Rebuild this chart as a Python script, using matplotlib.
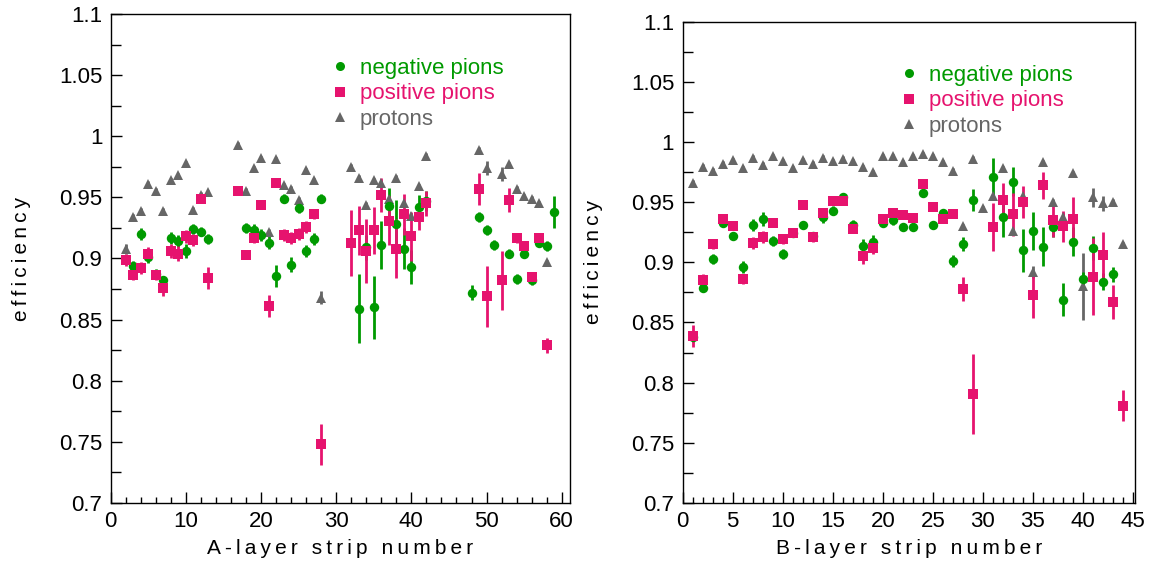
import matplotlib
matplotlib.use('Agg')
import matplotlib.pyplot as plt
from matplotlib.lines import Line2D
from matplotlib.ticker import MultipleLocator

plt.rcParams['font.family'] = ['Liberation Sans', 'DejaVu Sans']

green = '#009a00'
pink = '#e6136e'
grey = '#666666'

# ---- A layer ----
a_prot_x = [2, 3, 4, 5, 6, 7, 8, 9, 10, 11, 12, 13, 17, 18, 19, 20, 21, 22, 23, 24, 25, 26, 27, 28,
            32, 33, 34, 35, 36, 37, 38, 39, 40, 41, 42, 49, 50, 52, 53, 54, 55, 56, 57, 58]
a_prot_y = [0.908, 0.934, 0.939, 0.961, 0.9555, 0.939, 0.964, 0.968, 0.978, 0.940, 0.952, 0.954,
            0.993, 0.9555, 0.974, 0.982, 0.922, 0.981, 0.960, 0.957, 0.948, 0.972, 0.964, 0.868,
            0.975, 0.966, 0.944, 0.964, 0.962, 0.949, 0.966, 0.945, 0.935, 0.959, 0.984,
            0.989, 0.974, 0.969, 0.977, 0.957, 0.951, 0.949, 0.945, 0.897]
a_prot_e = [0.004, 0.002, 0.002, 0.002, 0.002, 0.002, 0.002, 0.002, 0.002, 0.002, 0.002, 0.002,
            0.002, 0.002, 0.002, 0.002, 0.002, 0.002, 0.002, 0.002, 0.002, 0.002, 0.002, 0.005,
            0.002, 0.002, 0.002, 0.002, 0.002, 0.002, 0.002, 0.002, 0.002, 0.002, 0.002,
            0.002, 0.006, 0.006, 0.002, 0.002, 0.002, 0.002, 0.002, 0.002]

a_neg_x = [3, 4, 5, 6, 7, 8, 9, 10, 11, 12, 13, 18, 19, 20, 21, 22, 23, 24, 25, 26, 27, 28,
           33, 34, 35, 36, 37, 38, 39, 40, 41, 42, 48, 49, 50, 51, 53, 54, 55, 56, 57, 58, 59]
a_neg_y = [0.894, 0.920, 0.9015, 0.887, 0.882, 0.917, 0.914, 0.906, 0.924, 0.922, 0.916,
           0.925, 0.923, 0.919, 0.913, 0.886, 0.949, 0.895, 0.941, 0.906, 0.916, 0.949,
           0.859, 0.909, 0.860, 0.911, 0.943, 0.928, 0.908, 0.893, 0.942, 0.947,
           0.872, 0.934, 0.923, 0.911, 0.904, 0.883, 0.904, 0.882, 0.913, 0.910, 0.938]
a_neg_e = [0.004, 0.005, 0.005, 0.004, 0.004, 0.005, 0.005, 0.006, 0.004, 0.004, 0.004,
           0.004, 0.005, 0.005, 0.005, 0.009, 0.004, 0.006, 0.004, 0.005, 0.005, 0.004,
           0.028, 0.010, 0.026, 0.020, 0.015, 0.020, 0.017, 0.014, 0.010, 0.008,
           0.006, 0.004, 0.004, 0.004, 0.004, 0.004, 0.004, 0.004, 0.004, 0.004, 0.013]

a_pos_x = [2, 3, 4, 5, 6, 7, 8, 9, 10, 11, 12, 13, 17, 18, 19, 20, 21, 22, 23, 24, 25, 26, 27, 28,
           32, 33, 34, 35, 36, 37, 38, 39, 40, 41, 42, 49, 50, 52, 53, 54, 55, 56, 57, 58]
a_pos_y = [0.899, 0.8865, 0.892, 0.904, 0.8865, 0.8756, 0.906, 0.904, 0.918, 0.915, 0.949, 0.884,
           0.9555, 0.903, 0.917, 0.9435, 0.861, 0.962, 0.9195, 0.917, 0.920, 0.926, 0.936, 0.748,
           0.913, 0.923, 0.906, 0.923, 0.952, 0.931, 0.908, 0.936, 0.918, 0.934, 0.945,
           0.957, 0.869, 0.882, 0.948, 0.9165, 0.910, 0.885, 0.917, 0.829]
a_pos_e = [0.005, 0.004, 0.005, 0.005, 0.004, 0.006, 0.006, 0.006, 0.005, 0.005, 0.003, 0.009,
           0.003, 0.003, 0.004, 0.003, 0.009, 0.003, 0.005, 0.005, 0.005, 0.005, 0.004, 0.017,
           0.027, 0.020, 0.026, 0.019, 0.014, 0.020, 0.024, 0.017, 0.020, 0.011, 0.010,
           0.013, 0.025, 0.024, 0.010, 0.004, 0.004, 0.003, 0.003, 0.006]

# ---- B layer ----
b_prot_x = list(range(1, 45))
b_prot_y = [0.966, 0.9795, 0.976, 0.982, 0.985, 0.978, 0.987, 0.981, 0.988, 0.984, 0.978, 0.985,
            0.982, 0.987, 0.984, 0.986, 0.984, 0.979, 0.975, 0.988, 0.988, 0.983, 0.988, 0.990,
            0.988, 0.983, 0.976, 0.930, 0.986, 0.945, 0.955, 0.978, 0.926, 0.955, 0.892, 0.983,
            0.950, 0.938, 0.974, 0.880, 0.954, 0.949, 0.950, 0.915]
b_prot_e = [0.002] * 34 + [0.005, 0.002, 0.003, 0.003, 0.002, 0.028, 0.008, 0.006, 0.003, 0.002]

b_neg_x = list(range(1, 30)) + list(range(31, 44))
b_neg_y = [0.838, 0.879, 0.903, 0.933, 0.922, 0.896, 0.931, 0.936, 0.9175, 0.907, 0.924, 0.931,
           0.922, 0.938, 0.943, 0.954, 0.931, 0.9135, 0.917, 0.933, 0.935, 0.929, 0.929, 0.958,
           0.931, 0.941, 0.901, 0.915, 0.952,
           0.971, 0.938, 0.967, 0.910, 0.926, 0.913, 0.929, 0.869, 0.917, 0.886, 0.912, 0.884, 0.890]
b_neg_e = [0.004, 0.004, 0.004, 0.004, 0.003, 0.005, 0.005, 0.006, 0.004, 0.004, 0.003, 0.003,
           0.003, 0.005, 0.004, 0.004, 0.004, 0.006, 0.006, 0.004, 0.004, 0.003, 0.003, 0.003,
           0.003, 0.003, 0.005, 0.006, 0.009,
           0.016, 0.017, 0.012, 0.018, 0.016, 0.016, 0.008, 0.014, 0.012, 0.006, 0.010, 0.007, 0.006]

b_pos_x = list(range(1, 30)) + list(range(31, 40)) + [41, 42, 43, 44]
b_pos_y = [0.839, 0.885, 0.915, 0.936, 0.930, 0.886, 0.916, 0.921, 0.933, 0.919, 0.924, 0.948,
           0.921, 0.941, 0.951, 0.951, 0.928, 0.905, 0.912, 0.936, 0.941, 0.939, 0.937, 0.965,
           0.946, 0.936, 0.940, 0.878, 0.7905,
           0.929, 0.952, 0.940, 0.950, 0.873, 0.964, 0.935, 0.930, 0.936, 0.888, 0.906, 0.867, 0.781]
b_pos_e = [0.009, 0.005, 0.004, 0.003, 0.003, 0.004, 0.005, 0.005, 0.003, 0.004, 0.003, 0.003,
           0.004, 0.004, 0.003, 0.003, 0.004, 0.006, 0.005, 0.004, 0.003, 0.003, 0.003, 0.003,
           0.003, 0.003, 0.003, 0.010, 0.033,
           0.020, 0.014, 0.018, 0.013, 0.019, 0.011, 0.014, 0.013, 0.018, 0.032, 0.019, 0.014, 0.0125]

labels = ['negative pions', 'positive pions', 'protons']


def spaced(s):
    return '\u2009'.join(s)


def draw(ax, prot, neg, pos, xlim, major, minor, xlabel, leg_anchor):
    ax.errorbar(prot[0], prot[1], yerr=prot[2], fmt='^', color=grey, ms=6.5, elinewidth=2, capsize=0, mew=0)
    ax.errorbar(neg[0], neg[1], yerr=neg[2], fmt='o', color=green, ms=6.8, elinewidth=2, capsize=0, mew=0)
    ax.errorbar(pos[0], pos[1], yerr=pos[2], fmt='s', color=pink, ms=6.5, elinewidth=2, capsize=0, mew=0)
    ax.set_xlim(0, xlim)
    ax.set_ylim(0.7, 1.1)
    ax.xaxis.set_major_locator(MultipleLocator(major))
    ax.xaxis.set_minor_locator(MultipleLocator(minor))
    ax.yaxis.set_major_locator(MultipleLocator(0.05))
    ax.yaxis.set_minor_locator(MultipleLocator(0.025))
    ax.yaxis.set_major_formatter(plt.FuncFormatter(lambda v, p: ('%.2f' % v).rstrip('0').rstrip('.')))
    ax.tick_params(which='both', direction='in', top=False, right=False, labelsize=16, width=1)
    ax.tick_params(which='major', length=8, pad=6)
    ax.tick_params(which='minor', length=4)
    ax.tick_params(axis='y', which='minor', length=7)
    for sp in ax.spines.values():
        sp.set_linewidth(1)
    ax.set_xlabel(spaced(xlabel), fontsize=15, labelpad=5)
    ax.set_ylabel(spaced('efficiency'), fontsize=15, labelpad=20)
    handles = [Line2D([], [], ls='', marker='o', color=green, ms=6.5, mew=0),
               Line2D([], [], ls='', marker='s', color=pink, ms=6.5, mew=0),
               Line2D([], [], ls='', marker='^', color=grey, ms=6.5, mew=0)]
    ax.legend(handles, labels, loc='upper left', bbox_to_anchor=leg_anchor, frameon=False,
              fontsize=16, labelcolor=[green, pink, grey], handlelength=0.8, handletextpad=0.5,
              labelspacing=0.2, borderpad=0, borderaxespad=0)


fig = plt.figure(figsize=(11.58, 5.63), dpi=100)
ax1 = fig.add_axes([0.0956, 0.1066, 0.3966, 0.8686])
ax2 = fig.add_axes([0.5894, 0.1066, 0.3908, 0.855])

draw(ax1, (a_prot_x, a_prot_y, a_prot_e), (a_neg_x, a_neg_y, a_neg_e), (a_pos_x, a_pos_y, a_pos_e),
     61.1, 10, 2, 'A-layer strip number', (0.48, 0.91))
draw(ax2, (b_prot_x, b_prot_y, b_prot_e), (b_neg_x, b_neg_y, b_neg_e), (b_pos_x, b_pos_y, b_pos_e),
     45.2, 5, 1, 'B-layer strip number', (0.48, 0.91))

fig.savefig('out.png', dpi=100)
